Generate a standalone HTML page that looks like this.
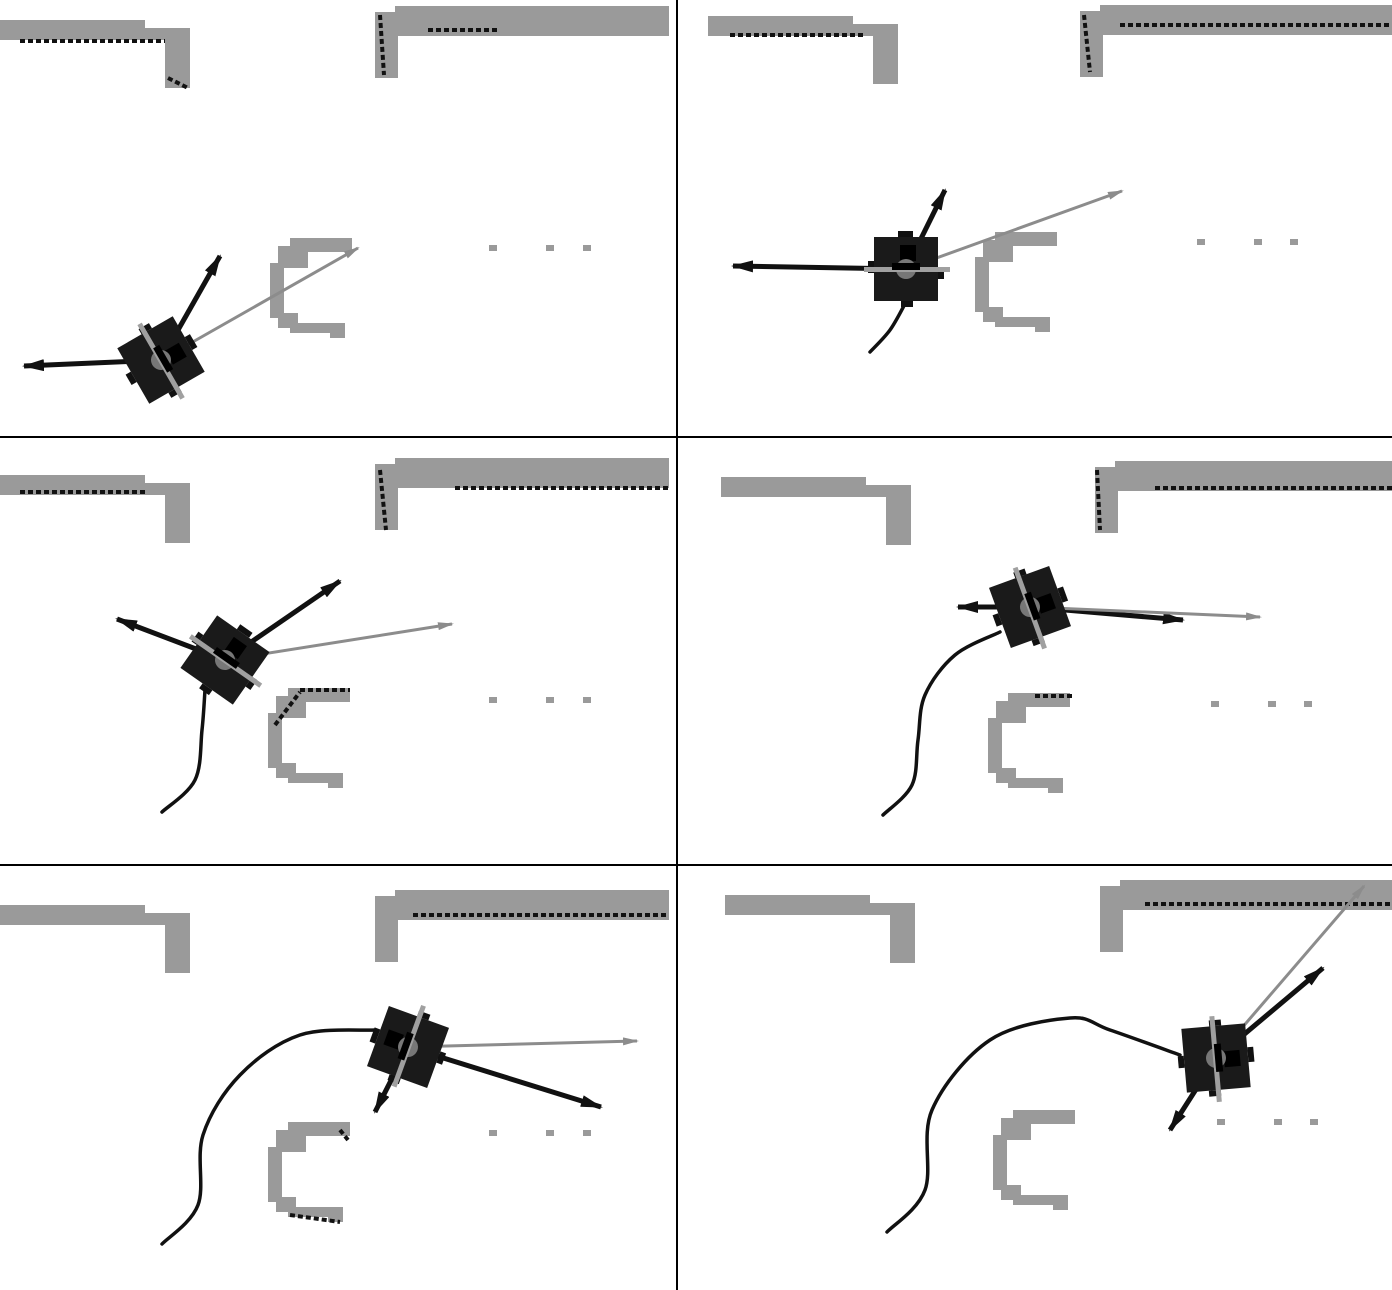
<!DOCTYPE html>
<html><head><meta charset="utf-8"><style>
html,body{margin:0;padding:0;background:#fff;width:1392px;height:1290px;overflow:hidden}
svg{display:block}
</style></head><body>
<svg id="scene" width="1392" height="1290" viewBox="0 0 1392 1290" xmlns="http://www.w3.org/2000/svg">
<defs>
<marker id="ab" markerWidth="22" markerHeight="12" refX="20" refY="6" orient="auto" markerUnits="userSpaceOnUse"><path d="M0,0 L22,6 L0,12 z" fill="#111"/></marker>
<marker id="ag" markerWidth="16" markerHeight="8" refX="14" refY="4" orient="auto" markerUnits="userSpaceOnUse"><path d="M0,0 L16,4 L0,8 z" fill="#8c8c8c"/></marker>
</defs>
<g id="panels"></g>
<line x1="677" y1="0" x2="677" y2="1290" stroke="#000" stroke-width="2"/>
<line x1="0" y1="437" x2="1392" y2="437" stroke="#000" stroke-width="2"/>
<line x1="0" y1="865" x2="1392" y2="865" stroke="#000" stroke-width="2"/>
</svg>
<script>
const NS='http://www.w3.org/2000/svg';
const panels=[
 {box:[0,0,669,436],tl:[0,20],tr:[375,6],c:[270,238],dots:[[493,248],[550,248],[587,248]],r:[161,360,60],
  arrows:[[220,256,'b'],[358,248,'g'],[24,366,'b']],traj:[],
  scans:[[20,41,165,41],[428,30,500,30],[380,15,384,75],[168,78,188,88]]},
 {box:[678,0,1392,436],tl:[708,16],tr:[1080,5],c:[975,232],dots:[[1201,242],[1258,242],[1294,242]],r:[906,269,0],
  arrows:[[945,190,'b'],[1122,191,'g'],[733,266,'b']],traj:[[870,352],[890,330],[906,302]],
  scans:[[730,35,865,35],[1120,25,1392,25],[1084,15,1090,72]]},
 {box:[0,438,669,864],tl:[0,475],tr:[375,458],c:[268,688],dots:[[493,700],[550,700],[587,700]],r:[225,660,35],
  arrows:[[340,581,'b'],[452,624,'g'],[117,619,'b']],traj:[[162,812],[195,780],[202,730],[205,690]],
  scans:[[20,492,145,492],[455,488,668,488],[380,470,386,530],[275,725,300,692],[300,690,350,690]]},
 {box:[678,438,1392,864],tl:[721,477],tr:[1095,461],c:[988,693],dots:[[1215,704],[1272,704],[1308,704]],r:[1030,607,70],
  arrows:[[1183,620,'b'],[1260,617,'g'],[958,607,'b']],traj:[[883,815],[912,785],[918,740],[925,695],[955,655],[1000,632]],
  scans:[[1155,488,1392,488],[1097,470,1100,530],[1035,696,1073,696]]},
 {box:[0,866,669,1290],tl:[0,905],tr:[375,890],c:[268,1122],dots:[[493,1133],[550,1133],[587,1133]],r:[408,1047,-70],
  arrows:[[637,1041,'g'],[601,1107,'b'],[375,1112,'b']],traj:[[162,1244],[198,1205],[203,1135],[240,1075],[300,1035],[375,1030]],
  scans:[[413,915,668,915],[290,1215,340,1222],[340,1130,348,1140]]},
 {box:[678,866,1392,1290],tl:[725,895],tr:[1100,880],c:[993,1110],dots:[[1221,1122],[1278,1122],[1314,1122]],r:[1216,1058,85],
  arrows:[[1364,886,'g'],[1323,968,'b'],[1170,1130,'b']],traj:[[887,1232],[925,1190],[932,1110],[990,1040],[1070,1018],[1110,1030],[1180,1055]],
  scans:[[1145,904,1392,904]]}
];
const G='#9a9a9a';
const root=document.getElementById('panels');
const defs=document.querySelector('defs');
function mk(tag,attrs,parent){const e=document.createElementNS(NS,tag);for(const k in attrs)e.setAttribute(k,attrs[k]);parent.appendChild(e);return e;}
function smooth(pts){
 let d='M'+pts[0][0]+','+pts[0][1];
 for(let i=0;i<pts.length-1;i++){
  const p0=pts[Math.max(0,i-1)],p1=pts[i],p2=pts[i+1],p3=pts[Math.min(pts.length-1,i+2)];
  const c1=[p1[0]+(p2[0]-p0[0])/6,p1[1]+(p2[1]-p0[1])/6];
  const c2=[p2[0]-(p3[0]-p1[0])/6,p2[1]-(p3[1]-p1[1])/6];
  d+=` C${c1[0]},${c1[1]} ${c2[0]},${c2[1]} ${p2[0]},${p2[1]}`;
 }
 return d;
}
panels.forEach((p,i)=>{
 const cp=mk('clipPath',{id:'clip'+i},defs);
 mk('rect',{x:p.box[0],y:p.box[1],width:p.box[2]-p.box[0],height:p.box[3]-p.box[1]},cp);
 const g=mk('g',{'clip-path':`url(#clip${i})`},root);
 
 
 const m=mk('g',{fill:G},g);
 
 
 const [a,b]=p.tl;
 mk('rect',{x:a,y:b,width:145,height:12},m);
 mk('rect',{x:a,y:b+8,width:190,height:12},m);
 mk('rect',{x:a+165,y:b+8,width:25,height:60},m);
 const [c,d]=p.tr;
 mk('rect',{x:c+20,y:d,width:320,height:30},m);
 mk('rect',{x:c,y:d+6,width:23,height:66},m);
 const [e,f]=p.c;
 mk('rect',{x:e+20,y:f,width:62,height:14},m);
 mk('rect',{x:e+8,y:f+8,width:30,height:22},m);
 mk('rect',{x:e,y:f+25,width:14,height:55},m);
 mk('rect',{x:e+8,y:f+75,width:20,height:15},m);
 mk('rect',{x:e+20,y:f+85,width:55,height:10},m);
 mk('rect',{x:e+60,y:f+90,width:15,height:10},m);
 p.dots.forEach(q=>mk('rect',{x:q[0]-4,y:q[1]-3,width:8,height:6},m));
 const s=mk('g',{stroke:'#111','stroke-width':4,'stroke-dasharray':'5 3'},g);
 
 
 p.scans.forEach(q=>mk('line',{x1:q[0],y1:q[1],x2:q[2],y2:q[3]},s));
 if(p.traj.length){
  const t=mk('path',{d:smooth(p.traj),fill:'none',stroke:'#111','stroke-width':3.5,'stroke-linecap':'round'},g);
  
  
 }
 const [rx,ry,rot]=p.r;
 p.arrows.forEach(q=>{
  const l=mk('line',{x1:rx,y1:ry,x2:q[0],y2:q[1],stroke:q[2]=='b'?'#111':'#8c8c8c','stroke-width':q[2]=='b'?5:3,'marker-end':q[2]=='b'?'url(#ab)':'url(#ag)'},g);
  
  
 });
 const r=mk('g',{transform:`translate(${rx},${ry}) rotate(${rot})`},g);
 
 
 mk('rect',{x:-32,y:-32,width:64,height:64,fill:'#1a1a1a'},r);
 mk('rect',{x:-8,y:-38,width:15,height:6,fill:'#111'},r);
 mk('rect',{x:-5,y:32,width:12,height:6,fill:'#111'},r);
 mk('rect',{x:-38,y:-8,width:6,height:12,fill:'#111'},r);
 mk('rect',{x:32,y:-2,width:6,height:12,fill:'#111'},r);
 mk('rect',{x:-6,y:-24,width:16,height:16,fill:'#000'},r);
 mk('circle',{cx:0,cy:0,r:10,fill:'#777'},r);
 mk('rect',{x:-42,y:-2,width:86,height:5,fill:'#a0a0a0'},r);
 mk('rect',{x:-14,y:-6,width:28,height:7,fill:'#000'},r);
});
</script>
</body></html>
